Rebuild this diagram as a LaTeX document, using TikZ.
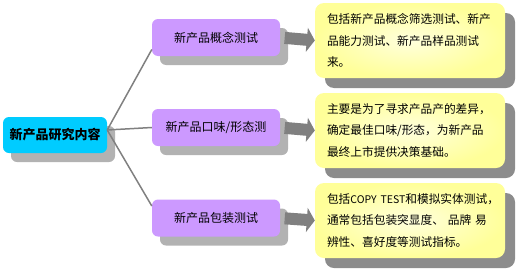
\documentclass[tikz,border=0pt]{standalone}
\usepackage{fontspec}
\newfontfamily\cjk{Noto Sans CJK SC}
\usetikzlibrary{shadows,arrows.meta}
\definecolor{rootcyan}{HTML}{00CCFF}
\definecolor{midpurple}{HTML}{CC99FF}
\definecolor{descyellow}{HTML}{FFFF99}
\definecolor{desclight}{HTML}{FFFFDD}
\definecolor{lightshadow}{HTML}{B2B2B2}
\definecolor{darkshadow}{HTML}{8C8C8C}
\definecolor{linkgray}{HTML}{808080}
\begin{document}
\begin{tikzpicture}[x=1pt,y=-1pt,
	rootbox/.style={fill=rootcyan, rounded corners=6pt, minimum width=104pt, minimum height=36pt,
		font=\cjk\bfseries\fontsize{13}{15}\selectfont,
		drop shadow={shadow xshift=8pt, shadow yshift=-9pt, fill=lightshadow, opacity=1}},
	midbox/.style={fill=midpurple, rounded corners=6pt, minimum width=128pt, minimum height=37pt,
		font=\cjk\fontsize{12}{14}\selectfont,
		drop shadow={shadow xshift=8pt, shadow yshift=-9pt, fill=lightshadow, opacity=1}},
	descbox/.style={inner color=desclight, outer color=descyellow, rounded corners=9pt,
		minimum width=190pt, minimum height=75pt, text width=166pt, inner xsep=12pt, align=left,
		font=\cjk\fontsize{11.7}{21.5}\selectfont,
		drop shadow={shadow xshift=10pt, shadow yshift=-10pt, fill=darkshadow, opacity=1}},
	link/.style={draw=linkgray, line width=1.5pt},
	blockarrow/.style={draw=linkgray, line width=12pt,
		{Bar[width=12pt,line width=1.2pt,sep=1.5pt]}-{Triangle[length=8pt,width=24pt]}, shorten <=3pt}]
	\useasboundingbox (0,0) rectangle (518,268);
	% main topic
	\node[rootbox] (root) at (55,135) {新产品研究内容};
	% three sub topics
	\node[midbox] (concept) at (216,37.5) {新产品概念测试};
	\node[midbox] (taste) at (216,127.5) {新产品口味/形态测};
	\node[midbox] (pack) at (216,218) {新产品包装测试};
	% descriptions
	\node[descbox] (conceptdesc) at (410,40.5) {包括新产品概念筛选测试、新产\\品能力测试、新产品样品测试\\来。};
	\node[descbox] (tastedesc) at (410,130.5) {主要是为了寻求产品产的差异，\\确定最佳口味/形态，为新产品\\最终上市提供决策基础。};
	\node[descbox] (packdesc) at (410,220.5) {\mbox{包括{\fontsize{10.5}{21.5}\selectfont COPY~TEST}和模拟实体测试，}\\通常包括包装突显度、\ 品牌 易\\辨性、喜好度等测试指标。};
	% branches
	\coordinate (hub) at ([yshift=5pt]root.east);
	\draw[link] (hub) -- ([yshift=-12pt]concept.west);
	\draw[link] (hub) -- (taste.west);
	\draw[link] (hub) -- ([yshift=12pt]pack.west);
	% arrows
	\draw[blockarrow] (concept.east) -- (conceptdesc.west);
	\draw[blockarrow] (taste.east) -- (tastedesc.west);
	\draw[blockarrow] (pack.east) -- (packdesc.west);
\end{tikzpicture}
\end{document}
